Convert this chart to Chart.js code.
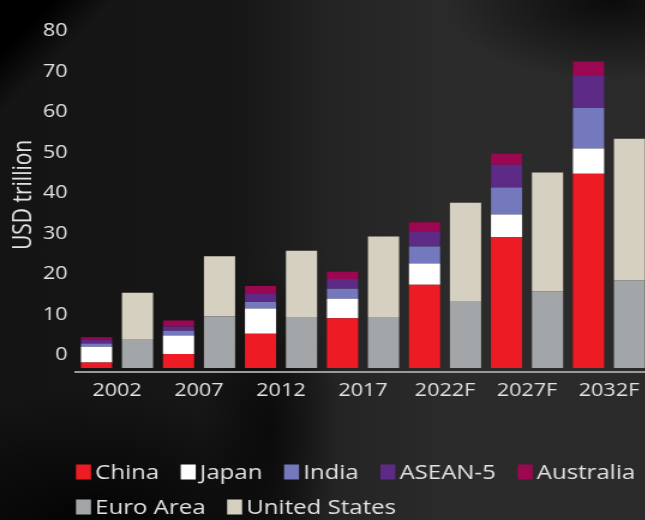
<!DOCTYPE html>
<html>
<head>
<meta charset="utf-8">
<script src="https://cdn.jsdelivr.net/npm/chart.js@4.4.1/dist/chart.umd.min.js"></script>
<style>
  html, body { margin: 0; padding: 0; width: 645px; height: 520px; overflow: hidden; }
  body {
    position: relative;
    background:
      linear-gradient(135deg, #000 0px, #000 38px, rgba(0,0,0,0) 80px),
      radial-gradient(ellipse 170px 80px at 610px 0px, rgba(0,0,0,0.75), rgba(0,0,0,0)),
      radial-gradient(ellipse 240px 150px at 90px 540px, rgba(0,0,0,0.95), rgba(0,0,0,0)),
      radial-gradient(ellipse 70px 160px at 270px 430px, rgba(0,0,0,0.6), rgba(0,0,0,0)),
      linear-gradient(90deg, #141414 0%, #171717 38%, #242424 52%, #2b2b2b 70%, #2a2a2a 100%);
  }
  #wrap { position: absolute; left: 0; top: 0; width: 550px; height: 520px;
          transform: scaleX(1.2); transform-origin: 0 0; }
  canvas { display: block; }
</style>
</head>
<body>
<div id="wrap"><canvas id="chart" width="550" height="520"></canvas></div>
<script>
// ---- data (USD trillion) ----
const categories   = ['2002', '2007', '2012', '2017', '2022F', '2027F', '2032F'];
const china        = [1.4, 3.5, 8.5, 12.3, 20.6, 32.3, 48.0];
const japan        = [3.9, 4.55, 6.2, 4.8, 5.2, 5.6, 6.2];
const india        = [0.8, 1.2, 1.6, 2.5, 4.2, 6.7, 10.0];
const asean5       = [0.9, 1.0, 2.0, 2.4, 3.6, 5.6, 8.1];
const australia    = [0.6, 1.5, 2.0, 1.8, 2.4, 2.7, 3.4];
const euroArea     = [7.0, 12.8, 12.6, 12.6, 16.4, 19.0, 21.6];
const unitedStates = [11.6, 14.8, 16.4, 19.9, 24.4, 29.3, 35.0];
const yTicks       = [0, 10, 20, 30, 40, 50, 60, 70, 80];
const yTitle       = 'USD trillion';

const FONT = '"Open Sans", "Noto Sans", sans-serif';
const TEXT = '#e2e2e2';

function ds(label, data, color, stack) {
  return { label, data, backgroundColor: color, stack, borderWidth: 0,
           categoryPercentage: 1.0, barPercentage: 0.76 };
}

const legendPlugin = {
  id: 'rowLegend',
  afterDraw(chart) {
    const ctx = chart.ctx;
    ctx.save();
    ctx.font = '400 20px ' + FONT;
    ctx.textBaseline = 'middle';
    ctx.textAlign = 'left';
    const rows = { asia: { x: 63.3, y: 472 }, west: { x: 63.3, y: 507 } };
    chart.data.datasets.forEach(d => {
      const r = rows[d.stack];
      ctx.fillStyle = d.backgroundColor;
      ctx.fillRect(r.x, r.y - 7.5, 12.5, 15);
      ctx.fillStyle = TEXT;
      ctx.fillText(d.label, r.x + 16, r.y + 1);
      r.x += 16 + ctx.measureText(d.label).width + 18;
    });
    ctx.restore();
  }
};

new Chart(document.getElementById('chart'), {
  type: 'bar',
  data: {
    labels: categories,
    datasets: [
      ds('China', china, '#ed1c24', 'asia'),
      ds('Japan', japan, '#ffffff', 'asia'),
      ds('India', india, '#7478bd', 'asia'),
      ds('ASEAN-5', asean5, '#5d2a85', 'asia'),
      ds('Australia', australia, '#9b0750', 'asia'),
      ds('Euro Area', euroArea, '#a3a6a8', 'west'),
      ds('United States', unitedStates, '#d6d0c0', 'west')
    ]
  },
  options: {
    responsive: false,
    animation: false,
    layout: { padding: { top: 8, right: 8.33, left: 0, bottom: 0 } },
    plugins: { legend: { display: false }, tooltip: { enabled: false } },
    scales: {
      x: {
        stacked: true,
        grid: { display: false, drawTicks: false },
        border: { display: true, color: '#9a9a9a', width: 2 },
        ticks: { color: TEXT, font: { family: FONT, size: 18 }, padding: 8, maxRotation: 0 },
        afterFit(axis) { axis.height = 148; }
      },
      y: {
        stacked: true,
        min: -0.961,
        max: 86.49,
        grid: { display: false, drawTicks: false },
        border: { display: false },
        afterBuildTicks(axis) { axis.ticks = yTicks.map(v => ({ value: v })); },
        ticks: { color: TEXT, font: { family: FONT, size: 18 }, padding: 7, labelOffset: -13,
                 autoSkip: false, callback: v => String(v) },
        title: { display: true, text: yTitle, color: TEXT, font: { family: FONT, size: 21 },
                 padding: { top: 7, bottom: 0 } },
        afterFit(axis) { axis.width = 63.33; }
      }
    }
  },
  plugins: [legendPlugin]
});
</script>
</body>
</html>
